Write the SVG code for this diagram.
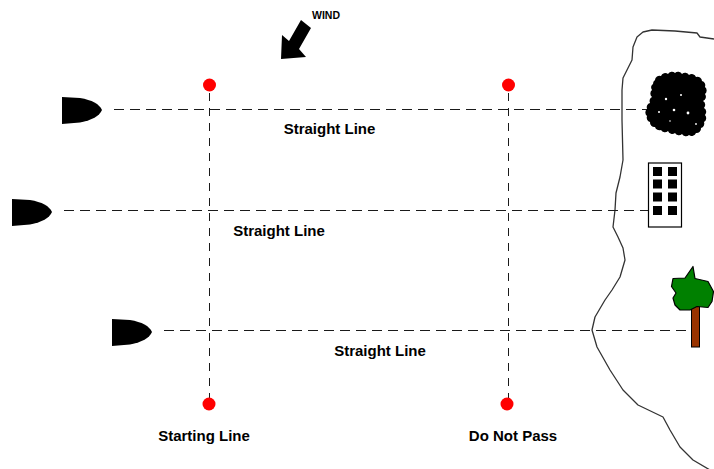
<svg xmlns="http://www.w3.org/2000/svg" width="714" height="469" viewBox="0 0 714 469">
  <style>
    .lbl { font-family: "Liberation Sans", Arial, sans-serif; font-weight: bold; font-size: 15px; fill: #000; text-anchor: middle; }
    .wind { font-family: "Liberation Sans", Arial, sans-serif; font-weight: bold; font-size: 10.5px; fill: #000; }
    .dash { stroke: #1a1a1a; stroke-width: 1; stroke-dasharray: 10 6; fill: none; }
    .vdash { stroke: #1a1a1a; stroke-width: 1; stroke-dasharray: 8 7; fill: none; }
    .buoy { fill: #ff0000; }
    .coast { stroke: #333; stroke-width: 1.3; fill: none; stroke-linejoin: round; }
  </style>
  <defs>
    <!-- boat hull seen from above, bow pointing right -->
    <path id="boatShape" d="M0,0 L18,1 Q36,4 40,13 Q36,22 18,25.5 L0,27 Z" fill="#000"/>
  </defs>

  <rect width="714" height="469" fill="#fff"/>

  <!-- shoreline -->
  <g id="coast">
    <path class="coast" d="M714,39 L700,37 L697,33 L675,31 L652,30 L643,32 L637,37 L633,47 L632,60 L627,70 L623,78 L622,90 L622,120 L623,160 L620,177 L616,193 L615,210 L613,227 L618,237 L623,248 L625,260 L620,277 L612,290 L605,300 L595,317 L592,330 L597,347 L610,370 L623,390 L638,405 L663,417 L670,430 L680,447 L693,460 L710,470"/>
  </g>

  <!-- course lines -->
  <g id="connectors">
    <line class="dash" x1="114" y1="109.5" x2="650" y2="109.5"/>
    <line class="dash" x1="64" y1="210.5" x2="648" y2="210.5"/>
    <line class="dash" x1="164" y1="330.5" x2="690" y2="330.5"/>
    <line class="vdash" x1="209.5" y1="93" x2="209.5" y2="398"/>
    <line class="vdash" x1="508.5" y1="93" x2="508.5" y2="398"/>
  </g>

  <!-- buoys -->
  <g id="buoy-start-top"><circle class="buoy" cx="209.5" cy="85" r="6.5"/></g>
  <g id="buoy-pass-top"><circle class="buoy" cx="508.5" cy="85" r="6.5"/></g>
  <g id="buoy-start-bottom"><circle class="buoy" cx="209" cy="404" r="6.5"/></g>
  <g id="buoy-pass-bottom"><circle class="buoy" cx="507" cy="404" r="6.5"/></g>

  <!-- boats -->
  <g id="boat1"><use href="#boatShape" x="62" y="97"/></g>
  <g id="boat2"><use href="#boatShape" x="12" y="199"/></g>
  <g id="boat3"><use href="#boatShape" x="112" y="319"/></g>

  <!-- wind indicator -->
  <g id="wind">
    <polygon points="281,59 282,35 289,41 301,20 311,28 299,49 306,57" fill="#000"/>
    <text class="wind" x="312" y="19">WIND</text>
  </g>

  <!-- bush landmark: bumpy outline with a few light specks -->
  <g id="bush">
    <path fill="#000" d="M655,80 A4.5,4.5 0 0 1 661,76 A4.5,4.5 0 0 1 668,74 A4.5,4.5 0 0 1 675,73 A4.5,4.5 0 0 1 682,74 A4.5,4.5 0 0 1 689,75 A4.5,4.5 0 0 1 696,77 A4.5,4.5 0 0 1 702,81 A4.5,4.5 0 0 1 705,87 A4.5,4.5 0 0 1 705,94 A4.5,4.5 0 0 1 703,101 A4.5,4.5 0 0 1 704,108 A4.5,4.5 0 0 1 705,115 A4.5,4.5 0 0 1 704,122 A4.5,4.5 0 0 1 701,128 A4.5,4.5 0 0 1 696,133 A4.5,4.5 0 0 1 689,135 A4.5,4.5 0 0 1 682,134 A4.5,4.5 0 0 1 675,133 A4.5,4.5 0 0 1 668,131 A4.5,4.5 0 0 1 661,130 A4.5,4.5 0 0 1 655,127 A4.5,4.5 0 0 1 650,122 A4.5,4.5 0 0 1 647,116 A4.5,4.5 0 0 1 647,109 A4.5,4.5 0 0 1 650,103 A4.5,4.5 0 0 1 652,97 A4.5,4.5 0 0 1 652,90 A4.5,4.5 0 0 1 653,84 A4.5,4.5 0 0 1 655,80 Z"/>
    <g fill="#fff">
      <circle cx="666" cy="99" r="1.2"/>
      <circle cx="674" cy="110" r="1.3"/>
      <circle cx="688" cy="113" r="1.4"/>
      <circle cx="659" cy="112" r="1"/>
      <circle cx="681" cy="95" r="1"/>
      <circle cx="696" cy="124" r="0.9"/>
      <circle cx="670" cy="121" r="0.8"/>
    </g>
  </g>

  <!-- building landmark -->
  <g id="building">
    <rect x="648.5" y="163" width="33" height="64" fill="#fff" stroke="#000" stroke-width="1.2"/>
    <g fill="#000">
      <rect x="653" y="167" width="9" height="9"/>
      <rect x="668" y="167" width="9" height="9"/>
      <rect x="653" y="179.5" width="9" height="9"/>
      <rect x="668" y="179.5" width="9" height="9"/>
      <rect x="653" y="192.5" width="9" height="9"/>
      <rect x="668" y="192.5" width="9" height="9"/>
      <rect x="653" y="206" width="9" height="9"/>
      <rect x="668" y="206" width="9" height="9"/>
    </g>
  </g>

  <!-- tree landmark -->
  <g id="tree">
    <rect x="691.5" y="306" width="8" height="41" fill="#993300" stroke="#000" stroke-width="1"/>
    <polygon points="693,266.5 695,278.5 708,281.5 713.5,291.5 712,301.5 708,307.5 697,306.5 690,310 680,310 675,305 673,298 676,293 671.5,286.5 673,278.5 685,278" fill="#008000" stroke="#000" stroke-width="1.2" stroke-linejoin="round"/>
  </g>

  <!-- labels -->
  <g id="labels">
    <text class="lbl" x="329.5" y="134">Straight Line</text>
    <text class="lbl" x="279" y="236">Straight Line</text>
    <text class="lbl" x="380" y="356">Straight Line</text>
    <text class="lbl" x="204" y="441">Starting Line</text>
    <text class="lbl" x="513" y="441">Do Not Pass</text>
  </g>
</svg>
